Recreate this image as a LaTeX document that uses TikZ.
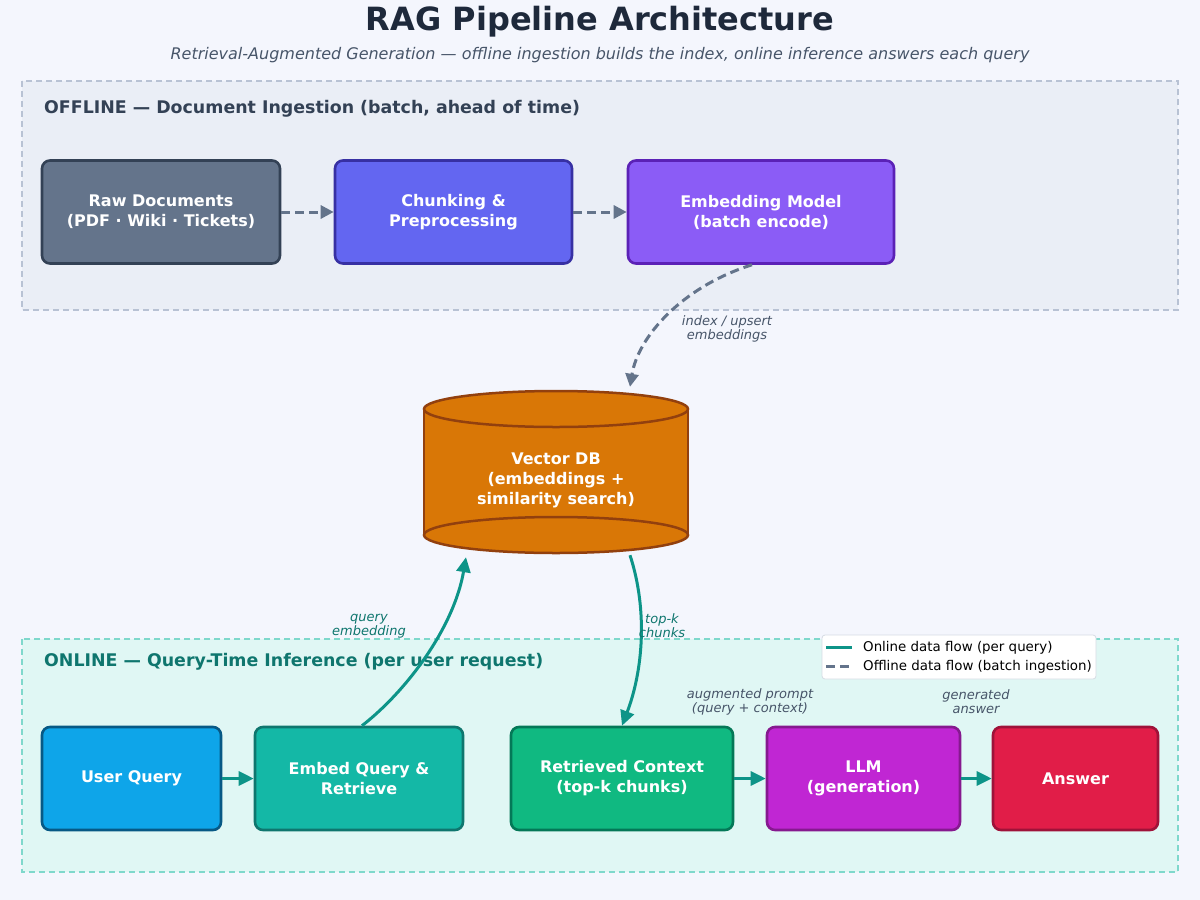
\documentclass[tikz,border=0pt]{standalone}
\usepackage{fontspec}
\setmainfont{DejaVu Sans}
\usetikzlibrary{arrows.meta,calc}
\definecolor{bgcol}{HTML}{F4F6FD}
\definecolor{offpanel}{HTML}{EAEEF6}
\definecolor{offpanelline}{HTML}{B8C2D4}
\definecolor{onpanel}{HTML}{E0F7F4}
\definecolor{onpanelline}{HTML}{7FD8CC}
\definecolor{titlecol}{HTML}{1E293B}
\definecolor{subcol}{HTML}{475569}
\definecolor{offlabel}{HTML}{334155}
\definecolor{onlabel}{HTML}{0F766E}
\definecolor{offarrow}{HTML}{64748B}
\definecolor{onarrow}{HTML}{0D9488}
\definecolor{dbfill}{HTML}{D97706}
\definecolor{dbline}{HTML}{92400E}

\begin{document}
\begin{tikzpicture}[x=1pt,y=-1pt]
    % Setup the styles for the boxes and flows
        \tikzset{box style/.style={rectangle,
                                   rounded corners=8pt,
                                   line width=2.6pt,
                                   minimum height=103pt,
                                   text=white,
                                   align=center,
                                   font=\fontsize{16}{20}\selectfont\bfseries},
                 online flow/.style={line width=3pt,
                                     draw=onarrow,
                                     -{Triangle[length=15pt,width=14pt]}},
                 offline flow/.style={line width=3pt,
                                      draw=offarrow,
                                      dash pattern=on 9pt off 5pt,
                                      -{Triangle[length=13pt,width=13pt]}},
                 edge label/.style={font=\fontsize{13}{14}\selectfont\itshape,
                                    align=center},
                 panel label/.style={anchor=west,
                                     inner sep=0pt,
                                     font=\fontsize{17.4}{20}\selectfont\bfseries}}
        \useasboundingbox (0,0) rectangle (1200,900);
        \fill[bgcol] (0,0) rectangle (1200,900);
        % Title
        \node[text=titlecol, font=\fontsize{32}{36}\selectfont\bfseries] at (600,22) (title) {RAG Pipeline Architecture};
        \node[text=subcol, font=\fontsize{16}{18}\selectfont\itshape] at (600,55) (subtitle)
            {Retrieval-Augmented Generation — offline ingestion builds the index, online inference answers each query};
        % Draw the panels
        \draw[fill=offpanel, draw=offpanelline, line width=1.5pt, dash pattern=on 6pt off 4pt] (22,81) rectangle (1178,310);
        \draw[fill=onpanel, draw=onpanelline, line width=1.5pt, dash pattern=on 6pt off 4pt] (22,639) rectangle (1178,872);
        \node[panel label, text=offlabel] at (44,109) (offtitle) {OFFLINE — Document Ingestion (batch, ahead of time)};
        \node[panel label, text=onlabel] at (44,662) (ontitle) {ONLINE — Query-Time Inference (per user request)};
        % Draw the offline boxes
        \node[box style, fill=offarrow, draw=offlabel, minimum width=238pt] at (161,212) (raw) {Raw Documents\\(PDF · Wiki · Tickets)};
        \node[box style, fill={rgb,255:red,99;green,102;blue,241}, draw={rgb,255:red,55;green,48;blue,163}, minimum width=237pt] at (453.5,212) (chunk) {Chunking \&\\Preprocessing};
        \node[box style, fill={rgb,255:red,139;green,92;blue,246}, draw={rgb,255:red,91;green,33;blue,182}, minimum width=266pt] at (761,212) (embed) {Embedding Model\\(batch encode)};
        % Draw the vector store
        \fill[dbfill] (424,409) rectangle (688,535);
        \draw[dbline, line width=2.5pt] (424,409) -- (424,535) (688,409) -- (688,535);
        \filldraw[fill=dbfill, draw=dbline, line width=2.5pt] (556,535) ellipse (132 and 18);
        \filldraw[fill=dbfill, draw=dbline, line width=2.5pt] (556,409) ellipse (132 and 18);
        \node[minimum width=264pt, minimum height=162pt, inner sep=0pt] at (556,472) (vdb) {};
        \node[text=white, align=center, font=\fontsize{16}{20}\selectfont\bfseries] at (556,480) (vdbtext) {Vector DB\\(embeddings +\\similarity search)};
        % Draw the online boxes
        \node[box style, fill={rgb,255:red,14;green,165;blue,233}, draw={rgb,255:red,7;green,89;blue,133}, minimum width=179pt] at (131.5,778.5) (user) {User Query};
        \node[box style, fill={rgb,255:red,20;green,184;blue,166}, draw=onlabel, minimum width=208pt] at (359,778.5) (embq) {Embed Query \&\\Retrieve};
        \node[box style, fill={rgb,255:red,16;green,185;blue,129}, draw={rgb,255:red,4;green,120;blue,87}, minimum width=222pt] at (622,778.5) (ctx) {Retrieved Context\\(top-k chunks)};
        \node[box style, fill={rgb,255:red,192;green,38;blue,211}, draw={rgb,255:red,134;green,25;blue,143}, minimum width=193pt] at (863.5,778.5) (llm) {LLM\\(generation)};
        \node[box style, fill={rgb,255:red,225;green,29;blue,72}, draw={rgb,255:red,159;green,18;blue,57}, minimum width=165pt] at (1075.5,778.5) (ans) {Answer};
        % Connect the offline boxes
        \draw[offline flow] (raw) -- (chunk);
        \draw[offline flow] (chunk) -- (embed);
        \draw[offline flow] ([xshift=-9pt]embed.south) .. controls +(-70,22) and +(8,-50) .. ([xshift=74pt,yshift=4pt]vdb.north);
        \node[edge label, text=subcol] at (727,329) (upsert) {index / upsert\\embeddings};
        % Connect the online boxes
        \draw[online flow] (user) -- (embq);
        \draw[online flow] (ctx) -- (llm);
        \draw[online flow] (llm) -- (ans);
        \draw[online flow] ([xshift=3pt]embq.north) .. controls +(45,-35) and +(-12,70) .. ([xshift=-90pt,yshift=-4pt]vdb.south);
        \draw[online flow] ([xshift=74pt,yshift=-2pt]vdb.south) .. controls +(18,55) and +(21,-55) .. (ctx.north);
        \node[edge label, text=onlabel] at (369,626) (qlabel) {query\\embedding};
        \node[edge label, text=onlabel] at (662,626) (klabel) {top-k\\chunks};
        \node[edge label, text=subcol] at (750,702) (plabel) {augmented prompt\\(query + context)};
        \node[edge label, text=subcol] at (976,702) (alabel) {generated\\answer};
        % Legend
        \node[fill=white, draw={rgb,255:red,214;green,220;blue,228}, line width=0.8pt, rounded corners=3pt,
              minimum width=274pt, minimum height=44pt] at (959,657) (legend) {};
        \coordinate (l1a) at (826,647); \coordinate (l1b) at (852,647);
        \coordinate (l2a) at (826,666); \coordinate (l2b) at (852,666);
        \draw[onarrow, line width=3pt] (l1a) -- (l1b);
        \draw[offarrow, line width=3pt, dash pattern=on 9pt off 5pt] (l2a) -- (l2b);
        \node[anchor=west, inner sep=0pt, font=\fontsize{13.4}{15}\selectfont] at (863,648) (leg1) {Online data flow (per query)};
        \node[anchor=west, inner sep=0pt, font=\fontsize{13.4}{15}\selectfont] at (863,667) (leg2) {Offline data flow (batch ingestion)};
\end{tikzpicture}
\end{document}
